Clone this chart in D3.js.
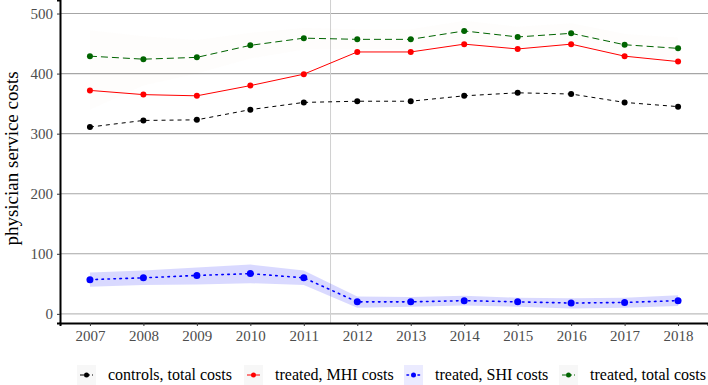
<!DOCTYPE html>
<html lang="en">
  <head>
    <meta charset="UTF-8" />
    <title>physician service costs</title>
    <style type="text/css">
      body {
        margin: 0;
        background: #fff;
      }
      text {
        font-family: "Liberation Serif", "Times New Roman", serif;
      }
    </style>
  </head>
  <body>
    <div id="chart"></div>
    <script src="https://d3js.org/d3.v7.min.js"></script>
    <script>
      var years = [2007, 2008, 2009, 2010, 2011, 2012, 2013, 2014, 2015, 2016, 2017, 2018];
      var yTicks = [0, 100, 200, 300, 400, 500];

      var controlsTotal = [311, 322, 323, 340, 352, 354, 354, 363, 368, 366, 352, 345];
      var treatedMHI = [372, 365, 363, 380, 399, 436, 436, 449, 441, 449, 429, 420];
      var treatedSHI = [57, 60, 64, 67, 60, 20, 20, 22, 20, 18, 19, 22];
      var treatedTotal = [429, 424, 427, 447, 459, 457, 457, 471, 461, 467, 448, 442];

      // confidence bands
      var shiLow = [45, 48, 49, 51, 48, 10, 12, 14, 12, 9, 10, 13];
      var shiHigh = [69, 72, 77, 82, 72, 29, 28, 30, 27, 26, 27, 31];
      var totalLow = [340, 380, 400, 425, 440, 440, 440, 452, 444, 450, 430, 424];
      var totalHigh = [472, 462, 456, 468, 476, 474, 474, 488, 478, 484, 466, 460];

      var legendLabels = ["controls, total costs", "treated, MHI costs", "treated, SHI costs", "treated, total costs"];

      var W = 708, H = 385;
      var margin = { top: 0, right: 0, bottom: 62, left: 60 };

      var svg = d3.select("#chart").append("svg")
        .attr("width", W)
        .attr("height", H);

      var x = d3.scaleLinear().domain([2006.44, 2018.56]).range([margin.left, W]);
      var y = d3.scaleLinear().domain([-15.2, 522.5]).range([H - margin.bottom, margin.top]);

      // gridlines
      svg.append("g")
        .selectAll("line")
        .data(yTicks)
        .enter()
        .append("line")
        .attr("x1", margin.left)
        .attr("x2", W)
        .attr("y1", function (d) { return y(d); })
        .attr("y2", function (d) { return y(d); })
        .attr("stroke", function (d) { return d === 0 ? "#bdbdbd" : "#a6a6a6"; })
        .attr("stroke-width", 1.1);

      // reform line
      svg.append("line")
        .attr("x1", x(2011.5)).attr("x2", x(2011.5))
        .attr("y1", 0).attr("y2", y.range()[0])
        .attr("stroke", "#d0d0d0")
        .attr("stroke-width", 1);

      var area = function (lo, hi) {
        return d3.area()
          .x(function (d, i) { return x(years[i]); })
          .y0(function (d, i) { return y(lo[i]); })
          .y1(function (d, i) { return y(hi[i]); })(years);
      };

      svg.append("path").attr("d", area(totalLow, totalHigh))
        .attr("fill", "#c08060").attr("fill-opacity", 0.018);
      svg.append("path").attr("d", area(shiLow, shiHigh))
        .attr("fill", "#0000ff").attr("fill-opacity", 0.15);

      var series = [
        { values: controlsTotal, color: "#000000", dash: "4,4" },
        { values: treatedMHI, color: "#ff0000", dash: null },
        { values: treatedSHI, color: "#0000ff", dash: "1.5,4.5" },
        { values: treatedTotal, color: "#006400", dash: "7,4" }
      ];

      var line = d3.line()
        .x(function (d, i) { return x(years[i]); })
        .y(function (d) { return y(d); });

      series.forEach(function (s) {
        svg.append("path")
          .attr("d", line(s.values))
          .attr("fill", "none")
          .attr("stroke", s.color)
          .attr("stroke-width", s.dash === "1.5,4.5" ? 1.6 : 1)
          .attr("stroke-linecap", s.dash === "1.5,4.5" ? "round" : "butt")
          .attr("stroke-dasharray", s.dash);
        svg.append("g")
          .selectAll("circle")
          .data(s.values)
          .enter()
          .append("circle")
          .attr("cx", function (d, i) { return x(years[i]); })
          .attr("cy", function (d) { return y(d); })
          .attr("r", s.color === "#0000ff" ? 3.5 : 3)
          .attr("fill", s.color);
      });

      // axes
      var xAxis = svg.append("g")
        .attr("transform", "translate(0," + y.range()[0] + ")")
        .call(d3.axisBottom(x).tickValues(years).tickFormat(d3.format("d")).tickSize(3).tickPadding(4));
      xAxis.select(".domain").attr("stroke", "#000").attr("stroke-width", 2);
      xAxis.selectAll(".tick line").attr("stroke", "#333");
      xAxis.selectAll("text")
        .attr("fill", "#4d4d4d")
        .style("font-size", "15px")
        .style("font-family", "'Liberation Serif', serif");

      var yAxis = svg.append("g")
        .attr("transform", "translate(" + margin.left + ",0)")
        .call(d3.axisLeft(y).tickValues(yTicks).tickSize(3).tickPadding(4));
      yAxis.select(".domain").attr("stroke", "#000").attr("stroke-width", 2);
      yAxis.selectAll(".tick line").attr("stroke", "#333");
      yAxis.selectAll("text")
        .attr("fill", "#4d4d4d")
        .style("font-size", "15px")
        .style("font-family", "'Liberation Serif', serif");

      svg.append("text")
        .attr("transform", "translate(18," + (y.range()[0] / 2 - 3) + ") rotate(-90)")
        .attr("text-anchor", "middle")
        .style("font-size", "19px")
        .attr("fill", "#000")
        .text("physician service costs");

      // legend
      var legendX = [77, 244, 404, 559];
      var legend = svg.append("g").attr("transform", "translate(0,375)");
      series.forEach(function (s, i) {
        var g = legend.append("g").attr("transform", "translate(" + legendX[i] + ",0)");
        g.append("rect")
          .attr("x", 0).attr("y", -10)
          .attr("width", 19).attr("height", 20)
          .attr("fill", i === 2 ? "#0000ff" : "#000")
          .attr("fill-opacity", i === 2 ? 0.08 : 0.03);
        g.append("line")
          .attr("x1", 3).attr("x2", 16)
          .attr("y1", 0).attr("y2", 0)
          .attr("stroke", s.color)
          .attr("stroke-width", i === 2 ? 1.6 : 1)
          .attr("stroke-linecap", i === 2 ? "round" : "butt")
          .attr("stroke-dasharray", i === 2 ? "1.5,4" : (i === 1 ? null : "4,2"));
        g.append("circle").attr("cx", 9.5).attr("cy", 0).attr("r", 2.5).attr("fill", s.color);
        g.append("text")
          .attr("x", 31).attr("y", 5)
          .style("font-size", "16px")
          .attr("fill", "#000")
          .text(legendLabels[i]);
      });
    </script>
  </body>
</html>
